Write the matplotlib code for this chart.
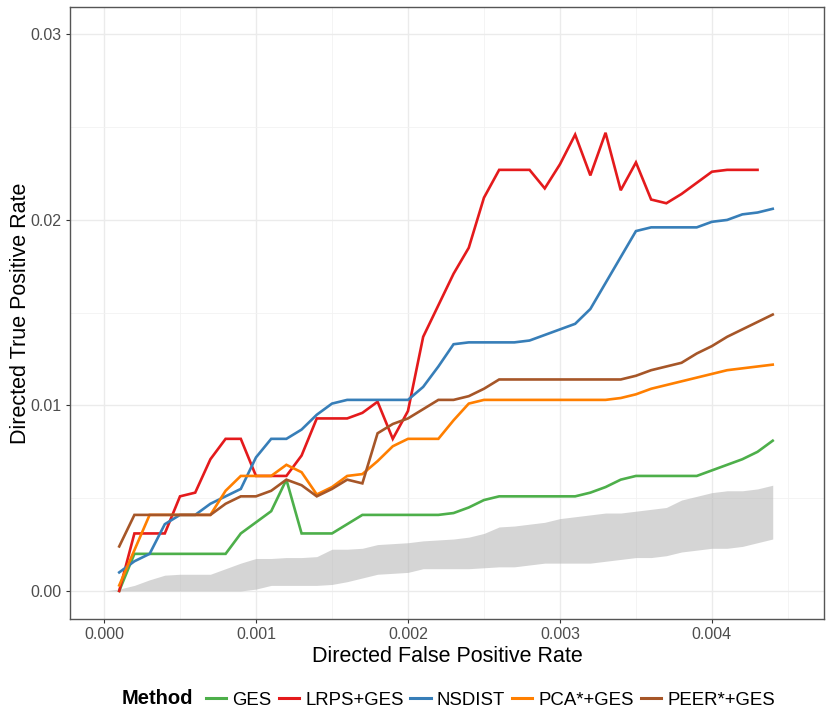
import matplotlib
matplotlib.use("Agg")
import matplotlib.pyplot as plt
from matplotlib.lines import Line2D
from matplotlib.ticker import MultipleLocator

plt.rcParams['font.family'] = ['Liberation Sans', 'DejaVu Sans']

# false positive rate grid of the curves
fpr = [0.0001, 0.0002, 0.0003, 0.0004, 0.0005, 0.0006, 0.0007, 0.0008, 0.0009, 0.0010,
       0.0011, 0.0012, 0.0013, 0.0014, 0.0015, 0.0016, 0.0017, 0.0018, 0.0019, 0.0020,
       0.0021, 0.0022, 0.0023, 0.0024, 0.0025, 0.0026, 0.0027, 0.0028, 0.0029, 0.0030,
       0.0031, 0.0032, 0.0033, 0.0034, 0.0035, 0.0036, 0.0037, 0.0038, 0.0039, 0.0040,
       0.0041, 0.0042, 0.0043, 0.0044]

ges = [0.0000, 0.0020, 0.0020, 0.0020, 0.0020, 0.0020, 0.0020, 0.0020, 0.0031, 0.0037,
       0.0043, 0.0060, 0.0031, 0.0031, 0.0031, 0.0036, 0.0041, 0.0041, 0.0041, 0.0041,
       0.0041, 0.0041, 0.0042, 0.0045, 0.0049, 0.0051, 0.0051, 0.0051, 0.0051, 0.0051,
       0.0051, 0.0053, 0.0056, 0.0060, 0.0062, 0.0062, 0.0062, 0.0062, 0.0062, 0.0065,
       0.0068, 0.0071, 0.0075, 0.0081]

lrps = [0.0000, 0.0031, 0.0031, 0.0031, 0.0051, 0.0053, 0.0071, 0.0082, 0.0082, 0.0062,
        0.0062, 0.0062, 0.0073, 0.0093, 0.0093, 0.0093, 0.0096, 0.0102, 0.0082, 0.0097,
        0.0137, 0.0154, 0.0171, 0.0185, 0.0212, 0.0227, 0.0227, 0.0227, 0.0217, 0.0230,
        0.0246, 0.0224, 0.0247, 0.0216, 0.0231, 0.0211, 0.0209, 0.0214, 0.0220, 0.0226,
        0.0227, 0.0227, 0.0227]

nsdist = [0.0010, 0.0016, 0.0020, 0.0036, 0.0041, 0.0041, 0.0047, 0.0051, 0.0055, 0.0072,
          0.0082, 0.0082, 0.0087, 0.0095, 0.0101, 0.0103, 0.0103, 0.0103, 0.0103, 0.0103,
          0.0110, 0.0121, 0.0133, 0.0134, 0.0134, 0.0134, 0.0134, 0.0135, 0.0138, 0.0141,
          0.0144, 0.0152, 0.0166, 0.0180, 0.0194, 0.0196, 0.0196, 0.0196, 0.0196, 0.0199,
          0.0200, 0.0203, 0.0204, 0.0206]

pca = [0.0003, 0.0022, 0.0041, 0.0041, 0.0041, 0.0041, 0.0041, 0.0054, 0.0062, 0.0062,
       0.0062, 0.0068, 0.0064, 0.0052, 0.0056, 0.0062, 0.0063, 0.0070, 0.0078, 0.0082,
       0.0082, 0.0082, 0.0092, 0.0101, 0.0103, 0.0103, 0.0103, 0.0103, 0.0103, 0.0103,
       0.0103, 0.0103, 0.0103, 0.0104, 0.0106, 0.0109, 0.0111, 0.0113, 0.0115, 0.0117,
       0.0119, 0.0120, 0.0121, 0.0122]

peer = [0.0024, 0.0041, 0.0041, 0.0041, 0.0041, 0.0041, 0.0041, 0.0047, 0.0051, 0.0051,
        0.0054, 0.0060, 0.0057, 0.0051, 0.0055, 0.0060, 0.0058, 0.0085, 0.0090, 0.0093,
        0.0098, 0.0103, 0.0103, 0.0105, 0.0109, 0.0114, 0.0114, 0.0114, 0.0114, 0.0114,
        0.0114, 0.0114, 0.0114, 0.0114, 0.0116, 0.0119, 0.0121, 0.0123, 0.0128, 0.0132,
        0.0137, 0.0141, 0.0145, 0.0149]

# random baseline band
band_x = [0.0000, 0.0001, 0.0002, 0.0003, 0.0004, 0.0005, 0.0006, 0.0007, 0.0008, 0.0009,
          0.0010, 0.0011, 0.0012, 0.0013, 0.0014, 0.0015, 0.0016, 0.0017, 0.0018, 0.0019,
          0.0020, 0.0021, 0.0022, 0.0023, 0.0024, 0.0025, 0.0026, 0.0027, 0.0028, 0.0029,
          0.0030, 0.0031, 0.0032, 0.0033, 0.0034, 0.0035, 0.0036, 0.0037, 0.0038, 0.0039,
          0.0040, 0.0041, 0.0042, 0.0043, 0.0044]
band_hi = [0.0000, 0.0001, 0.0003, 0.0006, 0.00085, 0.0009, 0.0009, 0.0009, 0.0012, 0.0015,
           0.00175, 0.00175, 0.0018, 0.0018, 0.00185, 0.00225, 0.00225, 0.0023, 0.0025, 0.00255,
           0.0026, 0.0027, 0.00275, 0.0028, 0.0029, 0.0031, 0.00345, 0.0035, 0.0036, 0.0037,
           0.0039, 0.0040, 0.0041, 0.0042, 0.0042, 0.0043, 0.0044, 0.0045, 0.0049, 0.0051,
           0.0053, 0.0054, 0.0054, 0.0055, 0.0057]
band_lo = [0.0000, 0.0000, 0.0000, 0.0000, 0.0000, 0.0000, 0.0000, 0.0000, 0.0000, 0.0000,
           0.0001, 0.0003, 0.0003, 0.0003, 0.0003, 0.00035, 0.0005, 0.0007, 0.0009, 0.00095,
           0.0010, 0.0012, 0.0012, 0.0012, 0.0012, 0.00125, 0.0013, 0.0013, 0.0014, 0.0015,
           0.0015, 0.0015, 0.0015, 0.0016, 0.0017, 0.0018, 0.0018, 0.0019, 0.0021, 0.0022,
           0.0023, 0.0023, 0.0024, 0.0026, 0.0028]

methods = ['GES', 'LRPS+GES', 'NSDIST', 'PCA*+GES', 'PEER*+GES']
colors = ['#4DAF4A', '#E41A1C', '#377EB8', '#FF7F00', '#A65628']
series = [ges, lrps, nsdist, pca, peer]

fig = plt.figure(figsize=(8.3, 7.27), dpi=100)
ax = fig.add_axes([0.0843, 0.1486, 0.9084, 0.8418])

ax.fill_between(band_x, band_lo, band_hi, color='#B3B3B3', alpha=0.55, linewidth=0, zorder=2)
for name, col, ys in zip(methods, colors, series):
    ax.plot(fpr[:len(ys)], ys, color=col, lw=1.9, zorder=3, solid_joinstyle='miter')

ax.set_xlim(-0.000224, 0.004737)
ax.set_ylim(-0.00151, 0.03148)
ax.xaxis.set_minor_locator(MultipleLocator(0.0005))
ax.yaxis.set_minor_locator(MultipleLocator(0.005))
ax.set_xticks([0, 0.001, 0.002, 0.003, 0.004])
ax.set_xticklabels(['0.000', '0.001', '0.002', '0.003', '0.004'])
ax.set_yticks([0, 0.01, 0.02, 0.03])
ax.set_yticklabels(['0.00', '0.01', '0.02', '0.03'])

ax.grid(which='major', color='#EBEBEB', lw=1.0, zorder=0)
ax.grid(which='minor', color='#F2F2F2', lw=0.6, zorder=0)
ax.set_axisbelow(True)
ax.tick_params(which='major', length=3, width=0.8, color='#333333',
               labelsize=11.5, labelcolor='#4D4D4D', pad=3)
ax.tick_params(which='minor', length=0)
for sp in ax.spines.values():
    sp.set_color('#555555')
    sp.set_linewidth(1.0)

ax.set_xlabel('Directed False Positive Rate', fontsize=15.5, labelpad=3)
ax.set_ylabel('Directed True Positive Rate', fontsize=15.5, labelpad=0)

# legend at bottom with title to the left
fig.text(122 / 830, 1 - 699 / 727, 'Method', fontsize=14.5, fontweight='bold',
         ha='left', va='center')
handles = [Line2D([], [], color=c, lw=2.2) for c in colors]
fig.legend(handles, methods, loc='center left', bbox_to_anchor=(206 / 830, 1 - 700 / 727),
           ncol=5, frameon=False, fontsize=13.4, handlelength=1.1, handletextpad=0.33,
           columnspacing=0.36, borderpad=0, borderaxespad=0)

fig.savefig('out.png', dpi=100)
